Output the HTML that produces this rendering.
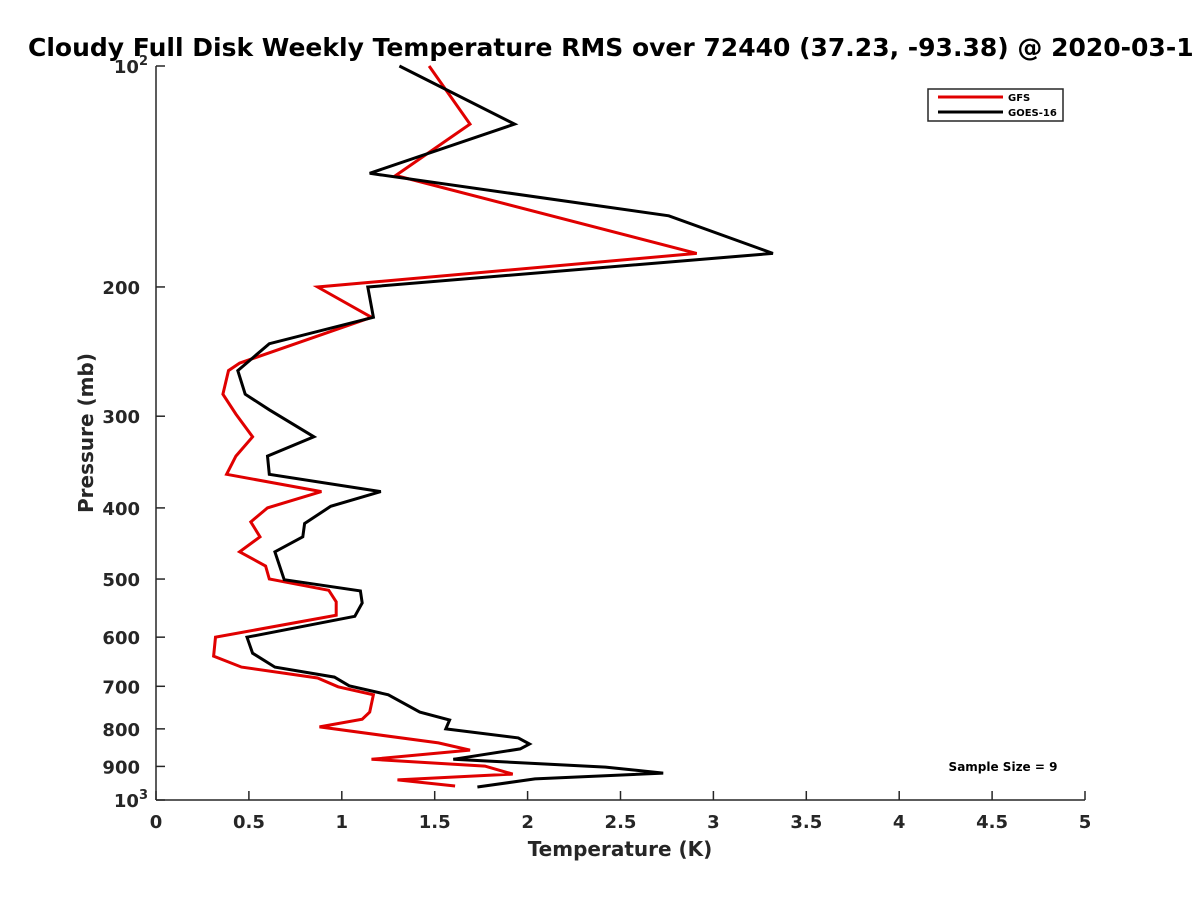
<!DOCTYPE html>
<html><head><meta charset="utf-8"><style>
body{margin:0;background:#fff;}
svg{display:block;font-family:"DejaVu Sans","Liberation Sans",sans-serif;}
</style></head><body>
<svg id="chart" width="1200" height="900" viewBox="0 0 1200 900">
<text x="28" y="56" font-size="25" font-weight="bold" fill="#000">Cloudy Full Disk Weekly Temperature RMS over 72440 (37.23, -93.38) @ 2020-03-1</text>
<g id="axes"></g>
<g id="series"></g>
<text x="620" y="856" font-size="20" font-weight="bold" fill="#262626" text-anchor="middle">Temperature (K)</text>
<text transform="translate(93,433) rotate(-90)" font-size="20" font-weight="bold" fill="#262626" text-anchor="middle">Pressure (mb)</text>
<g>
<rect x="928" y="89" width="135" height="32" fill="#fff" stroke="#262626" stroke-width="1.5"/>
<line x1="938" y1="97" x2="1003" y2="97" stroke="#e00000" stroke-width="3"/>
<text x="1008" y="101" font-size="10" font-weight="bold">GFS</text>
<line x1="938" y1="112" x2="1003" y2="112" stroke="#000" stroke-width="3"/>
<text x="1008" y="116" font-size="10" font-weight="bold">GOES-16</text>
</g>
<text x="1003" y="771" font-size="12" font-weight="bold" text-anchor="middle">Sample Size = 9</text>
</svg>
<script>
const xTicks=[0,0.5,1,1.5,2,2.5,3,3.5,4,4.5,5];
const xTickLabels=["0","0.5","1","1.5","2","2.5","3","3.5","4","4.5","5"];
const yTicks=[100,200,300,400,500,600,700,800,900,1000];
const yTickLabels=["10^2","200","300","400","500","600","700","800","900","10^3"];
const gfsTemp=[1.47,1.69,1.29,2.91,0.87,1.16,0.45,0.39,0.36,0.43,0.52,0.43,0.38,0.89,0.60,0.51,0.56,0.45,0.59,0.61,0.93,0.97,0.97,0.32,0.31,0.46,0.87,0.98,1.17,1.15,1.11,0.88,1.52,1.69,1.16,1.77,1.92,1.30,1.61];
const gfsPres=[100,120,141,180,200,220,254,260,280,298,320,340,360,380,400,418,438,459,480,500,518,537,560,600,637,659,682,701,719,759,776,795,836,855,880,899,922,939,957];
const goesTemp=[1.31,1.93,1.15,2.76,3.32,1.14,1.17,0.61,0.44,0.48,0.61,0.85,0.60,0.61,1.21,0.94,0.80,0.79,0.64,0.69,1.10,1.11,1.07,0.49,0.52,0.64,0.96,1.04,1.25,1.42,1.58,1.56,1.95,2.01,1.96,1.60,2.42,2.73,2.04,1.73];
const goesPres=[100,120,140,160,180,200,220,239,260,280,294,320,340,360,380,398,420,438,459,501,519,539,562,600,631,659,680,699,719,759,778,800,823,839,852,880,902,919,936,960];
const NS="http://www.w3.org/2000/svg";
const X0=156,X1=1085,Y0=66,Y1=800;
function xs(t){return X0+(t-0)/(5-0)*(X1-X0);}
function ys(p){return Y0+(Math.log10(p)-2)*(Y1-Y0);}
const axes=document.getElementById('axes');
function mk(tag,attrs,parent){const e=document.createElementNS(NS,tag);for(const k in attrs)e.setAttribute(k,attrs[k]);parent.appendChild(e);return e;}
let a=mk('line',{x1:X0,y1:Y0,x2:X0,y2:Y1,stroke:'#262626','stroke-width':1.5},axes);


a=mk('line',{x1:X0,y1:Y1,x2:X1,y2:Y1,stroke:'#262626','stroke-width':1.5},axes);


xTicks.forEach((t,i)=>{
  const x=xs(t);
  const l=mk('line',{x1:x,y1:Y1,x2:x,y2:Y1-9,stroke:'#262626','stroke-width':1.5},axes);
  
  
  const tx=mk('text',{x:x,y:Y1+28,'font-size':18,'font-weight':'bold',fill:'#262626','text-anchor':'middle'},axes);
  tx.textContent=xTickLabels[i];
  
  
});
yTicks.forEach((p,i)=>{
  const y=ys(p);
  const l=mk('line',{x1:X0,y1:y,x2:X0+9,y2:y,stroke:'#262626','stroke-width':1.5},axes);
  
  
  const tx=mk('text',{x:X0-16,y:y+7,'font-size':18,'font-weight':'bold',fill:'#262626','text-anchor':'end'},axes);
  const lab=yTickLabels[i];
  if(lab.indexOf('^')>=0){
    const parts=lab.split('^');
    tx.textContent=parts[0];
    const s=mk('tspan',{dy:-8,'font-size':13},tx);
    s.textContent=parts[1];
    tx.setAttribute('x',X0-8);
  } else tx.textContent=lab;
  
  
});
const ser=document.getElementById('series');
function line(T,P,color,name){
  const pts=T.map((t,i)=>xs(t).toFixed(1)+','+ys(P[i]).toFixed(1)).join(' ');
  const pl=mk('polyline',{points:pts,fill:'none',stroke:color,'stroke-width':3,'stroke-linejoin':'miter'},ser);
  
  
}
line(gfsTemp,gfsPres,'#e00000','gfs-line');
line(goesTemp,goesPres,'#000000','goes16-line');
</script>
</body></html>
